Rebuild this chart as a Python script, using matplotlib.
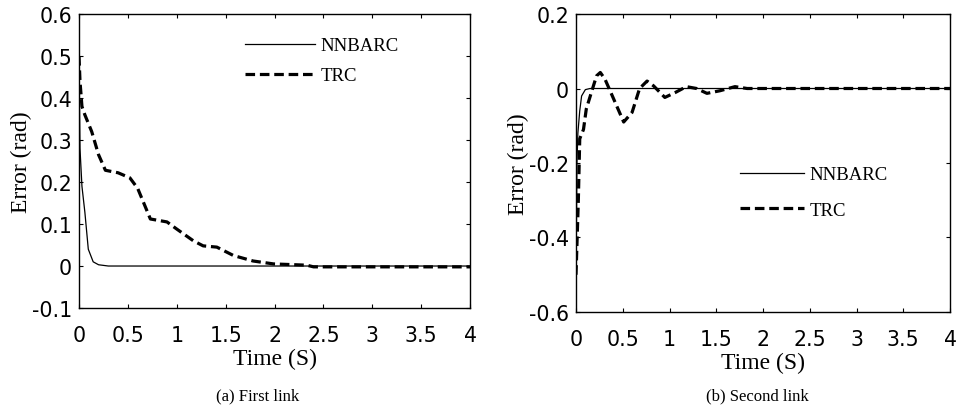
import numpy as np
import matplotlib
matplotlib.use("Agg")
import matplotlib.pyplot as plt

# first link: time (s) and error (rad)
t1_nn = [0, 0.01, 0.03, 0.06, 0.095, 0.145, 0.2, 0.3, 4.0]
e1_nn = [0.5, 0.28, 0.19, 0.128, 0.04, 0.01, 0.003, 0.0, 0.0]
t1_trc = [0, 0.01, 0.03, 0.06, 0.13, 0.2, 0.27, 0.4, 0.52, 0.6, 0.73, 0.9, 1.0,
          1.17, 1.27, 1.41, 1.58, 1.78, 1.99, 2.33, 2.4, 4.0]
e1_trc = [0.5, 0.44, 0.38, 0.36, 0.32, 0.265, 0.228, 0.222, 0.21, 0.185, 0.112,
          0.105, 0.088, 0.06, 0.048, 0.045, 0.025, 0.012, 0.005, 0.002, -0.002,
          -0.002]

# second link
t2_nn = [0, 0.01, 0.02, 0.04, 0.06, 0.1, 0.15, 4.0]
e2_nn = [-0.5, -0.2, -0.12, -0.06, -0.02, -0.003, 0.0, 0.0]
t2_trc = [0, 0.025, 0.04, 0.08, 0.11, 0.17, 0.22, 0.26, 0.31, 0.38, 0.51, 0.6,
          0.68, 0.76, 0.83, 0.95, 1.06, 1.18, 1.29, 1.4, 1.54, 1.7, 1.83, 4.0]
e2_trc = [-0.5, -0.3, -0.135, -0.11, -0.055, -0.006, 0.034, 0.043, 0.025, -0.015,
          -0.09, -0.064, 0.0, 0.02, 0.007, -0.024, -0.011, 0.005, 0.0, -0.013,
          -0.006, 0.005, 0.0, 0.0]

xticks = np.arange(0, 4.01, 0.5)
xtick_labels = ["0", "0.5", "1", "1.5", "2", "2.5", "3", "3.5", "4"]

fig = plt.figure(figsize=(9.6, 4.1), dpi=100)
ax1 = fig.add_axes([0.0823, 0.2463, 0.4073, 0.717])
ax2 = fig.add_axes([0.6, 0.2366, 0.3896, 0.7268])

tick_font = dict(family="DejaVu Sans", size=14.8)
serif = "Liberation Serif"


def style(ax, ylim, yticks, ylabels, caption, cap_x):
    ax.set_xlim(0, 4)
    ax.set_ylim(*ylim)
    ax.set_xticks(xticks)
    ax.set_xticklabels(xtick_labels, fontdict=tick_font)
    ax.set_yticks(yticks)
    ax.set_yticklabels(ylabels, fontdict=tick_font)
    ax.tick_params(axis="x", direction="in", length=3, top=True, pad=12)
    ax.tick_params(axis="y", direction="in", length=3, right=True, pad=5)
    for s in ax.spines.values():
        s.set_linewidth(1.0)
    ax.set_xlabel("Time (S)", family=serif, fontsize=17, labelpad=2)
    ax.set_ylabel("Error (rad)", family=serif, fontsize=17, labelpad=0)
    fig.text(cap_x, 0.032, caption, family=serif, fontsize=12, ha="center",
             va="center")


ax1.plot(t1_nn, e1_nn, color="black", lw=0.9, label="NNBARC")
ax1.plot(t1_trc, e1_trc, color="black", lw=2.3, dashes=(3, 1.5), label="TRC")
style(ax1, (-0.1, 0.6), np.arange(-0.1, 0.61, 0.1),
      ["-0.1", "0", "0.1", "0.2", "0.3", "0.4", "0.5", "0.6"],
      "(a) First link", 0.268)
ax1.legend(loc="upper left", bbox_to_anchor=(0.425, 0.922), frameon=False,
           borderpad=0, borderaxespad=0,
           prop=dict(family=serif, size=13.5), handlelength=3.7,
           handletextpad=0.3, labelspacing=0.7)

ax2.plot(t2_nn, e2_nn, color="black", lw=0.9, label="NNBARC")
ax2.plot(t2_trc, e2_trc, color="black", lw=2.3, dashes=(3, 1.5), label="TRC")
style(ax2, (-0.6, 0.2), np.arange(-0.6, 0.21, 0.2),
      ["-0.6", "-0.4", "-0.2", "0", "0.2"],
      "(b) Second link", 0.789)
ax2.legend(loc="upper left", bbox_to_anchor=(0.4385, 0.49), frameon=False,
           borderpad=0, borderaxespad=0,
           prop=dict(family=serif, size=13.5), handlelength=3.4,
           handletextpad=0.3, labelspacing=1.0)

fig.savefig("out.png", dpi=100)
